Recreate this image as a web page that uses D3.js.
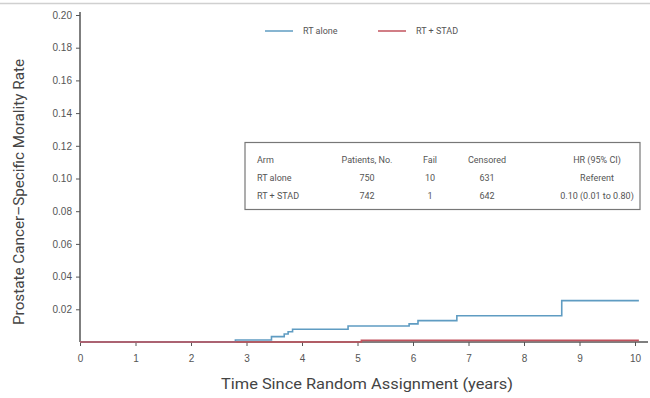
<!DOCTYPE html>
<html>
<head>
<meta charset="utf-8">
<script src="https://cdn.jsdelivr.net/npm/d3@7"></script>
<style>
  body { margin: 0; background: #fff; }
  svg { display: block; font-family: "Roboto", "Liberation Sans", sans-serif; }
  .axis text { fill: #555; font-size: 10px; }
  .axis line, .axis path { stroke: #555; }
</style>
</head>
<body>
<div id="chart"></div>
<script>
// cumulative incidence, step points [years, rate]
const rtAlone = [[0, 0], [2.8, 0.0012], [3.45, 0.0033], [3.68, 0.0049], [3.75, 0.0063], [3.83, 0.0078],
                 [4.83, 0.0098], [5.93, 0.0111], [6.09, 0.0131], [6.79, 0.0161], [8.68, 0.0253], [10.07, 0.0253]];
const rtStad  = [[0, 0], [5.07, 0.001], [10.07, 0.001]];

const seriesNames  = ["RT alone", "RT + STAD"];
const seriesColors = ["#5f9cc2", "#c2535e"];

const yTicks = [0.02, 0.04, 0.06, 0.08, 0.10, 0.12, 0.14, 0.16, 0.18, 0.20];
const xTicks = [0, 1, 2, 3, 4, 5, 6, 7, 8, 9, 10];

const tableHead = ["Arm", "Patients, No.", "Fail", "Censored", "HR (95% CI)"];
const tableRows = [
  ["RT alone", "750", "10", "631", "Referent"],
  ["RT + STAD", "742", "1", "642", "0.10 (0.01 to 0.80)"]
];

const W = 650, H = 398;
const svg = d3.select("#chart").append("svg").attr("width", W).attr("height", H);

// thin rule across the top
svg.append("line").attr("x1", 0).attr("x2", W).attr("y1", 3.5).attr("y2", 3.5)
   .attr("stroke", "#d0d0d0").attr("stroke-width", 1.5);

const x = d3.scaleLinear().domain([0, 10]).range([80, 635]);
const y = d3.scaleLinear().domain([0, 0.2]).range([342, 15]);

// axes
const gx = svg.append("g").attr("class", "axis").attr("transform", `translate(0,${y(0)})`)
  .call(d3.axisBottom(x).tickValues(xTicks).tickSize(4).tickPadding(9).tickSizeOuter(0));
gx.select(".domain").remove();
svg.append("line").attr("x1", x(0)).attr("x2", 648).attr("y1", y(0)).attr("y2", y(0))
   .attr("stroke", "#555").attr("stroke-width", 1.5);

const gy = svg.append("g").attr("class", "axis").attr("transform", `translate(${x(0)},0)`)
  .call(d3.axisLeft(y).tickValues(yTicks).tickFormat(d3.format(".2f")).tickSize(4).tickPadding(4).tickSizeOuter(0));
gy.select(".domain").remove();
svg.append("line").attr("x1", x(0)).attr("x2", x(0)).attr("y1", y(0.2) - 3).attr("y2", y(0))
   .attr("stroke", "#555").attr("stroke-width", 1.5);

// axis titles
svg.append("text").attr("x", 367).attr("y", 389).attr("text-anchor", "middle")
   .attr("fill", "#444").attr("font-size", 15.5).attr("textLength", 292).attr("lengthAdjust", "spacingAndGlyphs")
   .text("Time Since Random Assignment (years)");
svg.append("text").attr("transform", "translate(24,192) rotate(-90)").attr("text-anchor", "middle")
   .attr("fill", "#444").attr("font-size", 14).attr("textLength", 266).attr("lengthAdjust", "spacingAndGlyphs")
   .text("Prostate Cancer\u2013Specific Morality Rate");

// step curves (red drawn last so it sits on the baseline)
const line = d3.line().x(d => x(d[0])).y(d => y(d[1])).curve(d3.curveStepAfter);
[rtAlone, rtStad].forEach((s, i) => {
  svg.append("path").datum(s).attr("d", line).attr("fill", "none")
     .attr("stroke", seriesColors[i]).attr("stroke-width", 1.6);
});

// legend
const lg = svg.append("g").attr("font-size", 9);
[[265, 0], [378, 1]].forEach(([lx, i]) => {
  lg.append("line").attr("x1", lx).attr("x2", lx + 28).attr("y1", 31).attr("y2", 31)
    .attr("stroke", seriesColors[i]).attr("stroke-width", 1.5);
  lg.append("text").attr("x", lx + 38).attr("y", 34).attr("fill", "#555").text(seriesNames[i]);
});

// summary table
const tb = svg.append("g").attr("font-size", 9).attr("fill", "#555");
tb.append("rect").attr("x", 245).attr("y", 142.5).attr("width", 395).attr("height", 67)
  .attr("fill", "#fff").attr("stroke", "#777").attr("stroke-width", 1.2);
const colX = [257, 367, 430, 487, 597];
const colAnchor = ["start", "middle", "middle", "middle", "middle"];
[tableHead, ...tableRows].forEach((row, r) => {
  row.forEach((cell, c) => {
    tb.append("text").attr("x", colX[c]).attr("y", 163 + r * 18)
      .attr("text-anchor", colAnchor[c]).text(cell);
  });
});
</script>
</body>
</html>
